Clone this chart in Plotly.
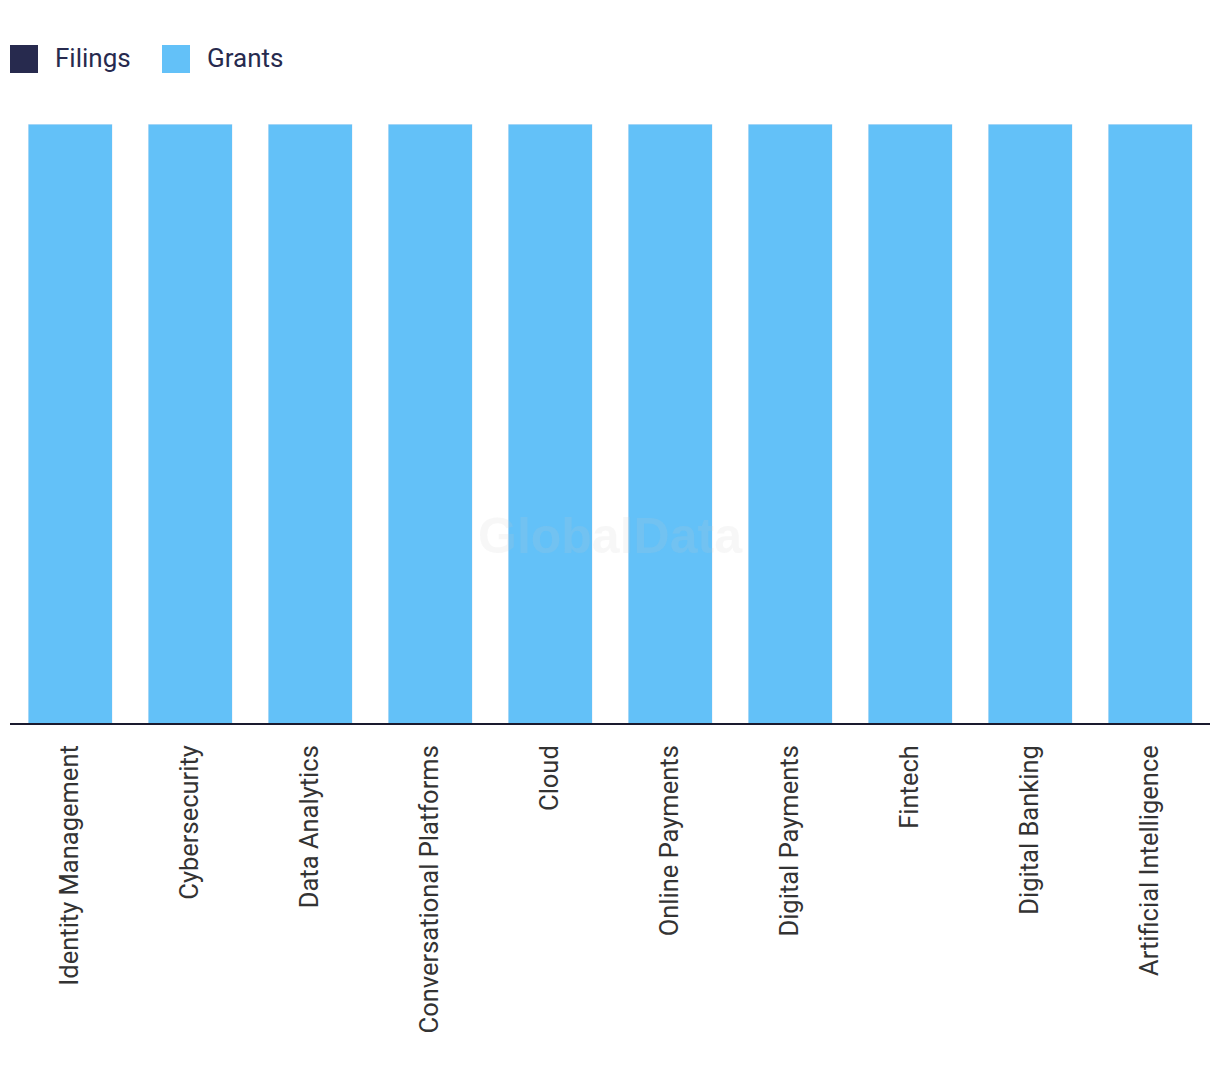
import plotly.graph_objects as go

categories = ["Identity Management", "Cybersecurity", "Data Analytics",
              "Conversational Platforms", "Cloud", "Online Payments",
              "Digital Payments", "Fintech", "Digital Banking",
              "Artificial Intelligence"]
filings = [0, 0, 0, 0, 0, 0, 0, 0, 0, 0]
grants = [100, 100, 100, 100, 100, 100, 100, 100, 100, 100]

FILINGS_COLOR = "#272a4e"
GRANTS_COLOR = "#63c1f8"
FONT = "Roboto"

# plot area in screen pixels: x 10..1210, y 124..723
PX0, PX1, PY0, PY1 = 10, 1210, 124, 723


def px(x):
    return (x - PX0) / (PX1 - PX0)


def py(y):
    return (PY1 - y) / (PY1 - PY0)


fig = go.Figure()
fig.add_trace(go.Bar(x=categories, y=filings, name="Filings",
                     marker_color=FILINGS_COLOR, showlegend=False))
fig.add_trace(go.Bar(x=categories, y=grants, name="Grants",
                     marker_color=GRANTS_COLOR, showlegend=False))

# manual legend
legend_items = [("Filings", FILINGS_COLOR, 10), ("Grants", GRANTS_COLOR, 162)]
for name, color, x0 in legend_items:
    fig.add_shape(type="rect", xref="paper", yref="paper",
                  x0=px(x0), x1=px(x0 + 28), y0=py(73), y1=py(45),
                  fillcolor=color, line_width=0)
    fig.add_annotation(text=name, xref="paper", yref="paper",
                       x=px(x0 + 43), y=py(58),
                       xanchor="left", yanchor="middle", showarrow=False,
                       font=dict(family=FONT, size=26, color="#272a4e"))

fig.add_annotation(text="<b>GlobalData</b>", xref="paper", yref="paper",
                   x=px(610), y=py(566), showarrow=False,
                   font=dict(family="Liberation Sans", size=50,
                             color="rgba(200,200,200,0.15)"))

fig.update_layout(
    width=1220, height=1080,
    barmode="stack", bargap=0.3,
    margin=dict(l=2, r=18, t=116, b=365),
    plot_bgcolor="white", paper_bgcolor="white",
    font=dict(family=FONT, size=26, color="#333333"),
    xaxis=dict(showline=True, linecolor="#1a1a2e", linewidth=2,
               tickangle=-90, ticks="outside", ticklen=10,
               tickcolor="rgba(0,0,0,0)", showgrid=False,
               tickfont=dict(family=FONT, size=25.5, color="#333333")),
    yaxis=dict(range=[0, 100], visible=False, showgrid=False),
)

fig.write_html("out.html")
